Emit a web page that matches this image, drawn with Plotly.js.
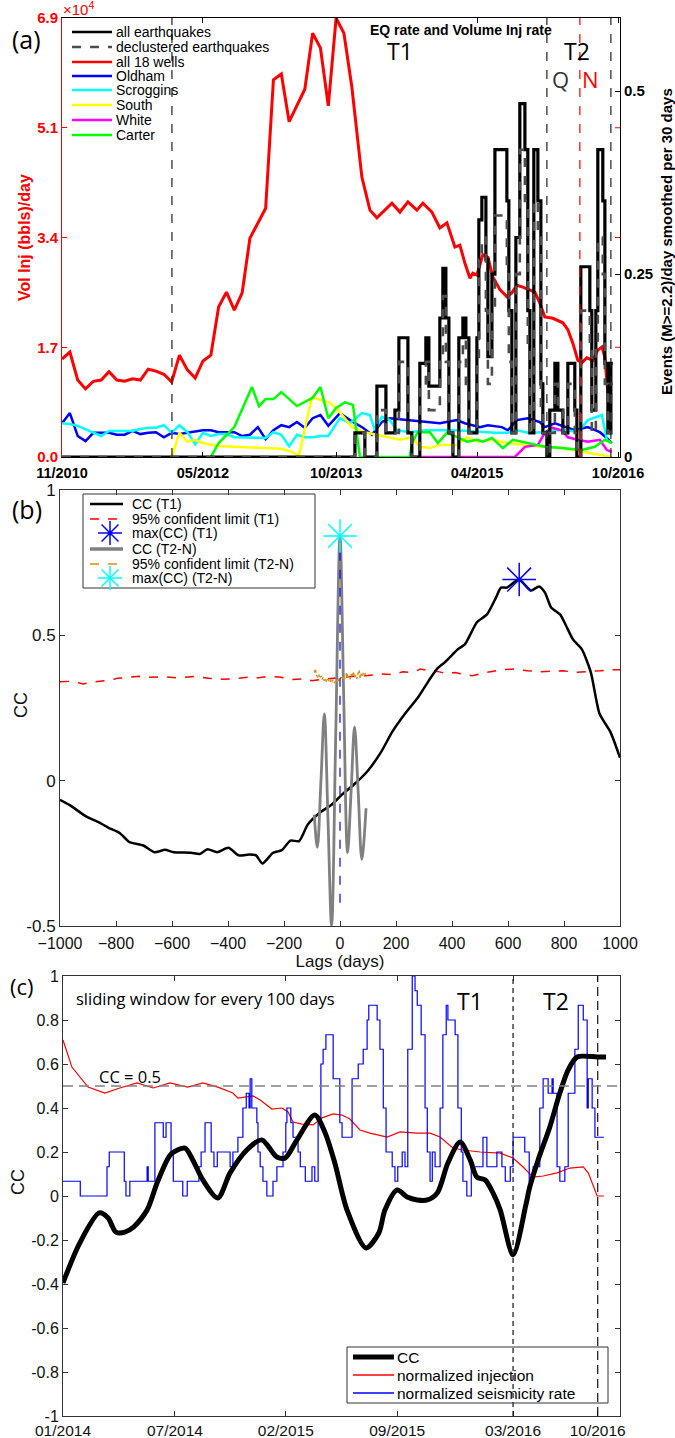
<!DOCTYPE html>
<html>
<head>
<meta charset="utf-8">
<script src="https://cdn.plot.ly/plotly-3.0.1.min.js"></script>
<style>
html,body{margin:0;padding:0;background:#fff;}
#chart{width:675px;height:1438px;}
</style>
</head>
<body>
<div id="chart"></div>
<script>
// ================= Panel (a) data =================
// time in decimal years; injection in 10^4 bbls/day; EQ rate in events/day
const monthsT = [2010.833,2010.917,2011.000,2011.083,2011.167,2011.250,2011.333,2011.417,2011.500,2011.583,
  2011.667,2011.750,2011.833,2011.917,2012.000,2012.083,2012.167,2012.250,2012.333,2012.417,
  2012.500,2012.583,2012.667,2012.750,2012.833,2012.917,2013.000,2013.083,2013.167,2013.250,
  2013.333,2013.417,2013.500,2013.583,2013.667,2013.750,2013.833,2013.917];

const allWellsLateT = [2014.024,2014.110,2014.184,2014.344,2014.429,2014.514,2014.610,2014.673,2014.769,2014.854,
  2014.929,2015.014,2015.067,2015.120,2015.174,2015.205,2015.248,2015.312,2015.365,2015.418,
  2015.493,2015.567,2015.620,2015.673,2015.737,2015.812,2015.865,2015.918,2015.971,2016.056,
  2016.163,2016.216,2016.269,2016.322,2016.365,2016.418,2016.482,2016.535,2016.578,2016.610,
  2016.642,2016.684];
const allWellsV = [1.54,1.65,1.21,1.07,1.19,1.21,1.34,1.21,1.19,1.23,1.21,1.38,1.35,1.30,1.18,1.60,1.37,1.24,1.51,1.60,
  2.36,2.59,2.31,2.58,3.44,3.68,3.91,5.93,6.02,5.27,5.52,5.78,6.66,6.43,5.52,6.90,6.66,5.82,
  4.40,3.88,3.76,3.99,3.85,4.01,3.88,3.99,3.85,3.60,3.68,3.30,3.33,3.05,2.81,2.89,2.86,3.18,3.14,2.83,
  2.63,2.52,2.58,2.70,2.67,2.63,2.59,2.42,2.20,2.18,2.11,2.00,1.79,1.52,1.48,1.56,1.52,1.68,1.73,1.57,1.01,0.97];

const oldhamLateT = [2013.791,2013.897,2014.035,2014.131,2014.237,2014.322,2014.503,2014.716,2014.854,2015.035,
  2015.120,2015.280,2015.365,2015.514,2015.578,2015.673,2015.790,2015.918,2015.971,2016.078,
  2016.205,2016.290,2016.429,2016.556,2016.631,2016.684];
const oldhamV = [0.53,0.69,0.33,0.25,0.38,0.38,0.38,0.35,0.35,0.41,0.36,0.38,0.39,0.31,0.38,0.36,0.38,0.39,0.42,0.42,
  0.39,0.39,0.39,0.33,0.35,0.47,0.28,0.42,0.50,0.47,0.55,0.46,0.61,0.66,0.49,
  0.69,0.58,0.46,0.35,0.55,0.61,0.58,0.55,0.53,0.58,0.53,0.47,0.50,0.47,0.42,0.58,0.61,0.55,0.47,0.53,
  0.47,0.42,0.47,0.39,0.30,0.22];

const scrogginsLateT = [2013.791,2013.897,2014.024,2014.110,2014.163,2014.237,2014.322,2014.397,2014.535,2014.716,
  2015.035,2015.280,2015.440,2015.578,2015.673,2015.790,2015.939,2016.078,2016.216,2016.322,
  2016.429,2016.578,2016.631,2016.684];
const scrogginsV = [0.53,0.52,0.49,0.44,0.39,0.33,0.41,0.41,0.41,0.41,0.44,0.46,0.46,0.50,0.38,0.50,0.39,0.20,0.38,0.33,
  0.36,0.36,0.31,0.31,0.30,0.31,0.30,0.39,0.35,0.17,0.35,0.31,0.31,0.33,0.33,
  0.61,0.53,0.69,0.66,0.42,0.63,0.58,0.42,0.39,0.42,0.42,0.39,0.38,0.38,0.42,0.38,0.39,0.42,0.42,0.39,
  0.58,0.66,0.27,0.22];

const southT = [2012.000,2012.083,2012.167,2012.250,2012.333,2012.500,2012.667,2013.000,2013.167,2013.280,
  2013.354,2013.492,2013.578,2013.684,2013.769,2013.918,2014.078,2014.322,2014.429,2014.556,
  2014.641,2014.748,2014.854,2015.035,2015.141,2015.258,2015.408,2015.578,2015.759,2015.939,
  2016.152,2016.365,2016.578,2016.684];
const southV = [0,0.38,0.24,0.27,0.22,0.17,0.16,0.14,0.13,0.08,0.02,0.94,0.90,0.85,0.74,0.47,0.38,0.30,0.27,0.31,
  0.16,0.14,0.19,0.19,0.31,0.24,0.27,0.22,0.19,0.16,0.14,0.08,0.03,0];

const whiteT = [2014.535,2015.652,2015.759,2015.897,2015.971,2016.046,2016.152,2016.216,2016.322,2016.429,
  2016.556,2016.631,2016.684];
const whiteV = [0,0,0.16,0.19,0.38,0.46,0.42,0.31,0.27,0.24,0.27,0.11,0.08];

const carterT = [2012.417,2012.500,2012.667,2012.854,2012.929,2013.000,2013.083,2013.167,2013.333,2013.500,
  2013.583,2013.667,2013.750,2013.844,2013.929,2014.003,2014.535,2014.556,2014.620,2014.748,
  2014.833,2014.929,2015.046,2015.141,2015.248,2015.312,2015.408,2015.525,2015.631,2015.790,
  2015.971,2016.152,2016.365,2016.503,2016.610,2016.684];
const carterV = [0,0.22,0.47,1.10,0.80,0.91,0.91,1.02,0.80,0.93,1.10,0.61,0.77,0.86,0.82,0,0,0.22,0.39,0.39,
  0.22,0.38,0.31,0.24,0.27,0.24,0.30,0.14,0.27,0.22,0.16,0.14,0.11,0.16,0.27,0.22];

const eqT = [2010.833,2013.950,2014.056,2014.184,2014.280,2014.376,2014.418,2014.514,2014.556,2014.641,
  2014.705,2014.737,2014.854,2014.886,2014.918,2014.950,2014.993,2015.056,2015.099,2015.131,
  2015.163,2015.195,2015.248,2015.269,2015.301,2015.344,2015.365,2015.408,2015.440,2015.567,
  2015.588,2015.620,2015.663,2015.705,2015.759,2015.790,2015.812,2015.854,2015.897,2015.929,
  2015.950,2015.993,2016.024,2016.078,2016.110,2016.163,2016.216,2016.290,2016.312,2016.354,
  2016.450,2016.471,2016.514,2016.535,2016.588,2016.610,2016.642,2016.674,2016.695];
const eqAllV = [0,0.033,0,0.097,0.033,0.064,0.163,0.033,0,0.128,0.163,0.097,0.19,0.258,0.19,0.033,0,0.163,0.19,0.163,
  0.033,0.033,0.163,0.324,0.355,0.27,0.137,0.25,0.42,0.35,0.2,0.033,0.3,0.483,0.42,0.2,0.033,0.42,0.35,0.1,
  0.033,0,0.064,0.128,0.064,0.033,0.128,0.064,0,0.26,0.2,0.064,0.2,0.42,0.35,0.128,0.033,0.128,0.128];
const eqDeclV = [0,0.033,0,0.064,0.033,0.033,0.13,0.033,0,0.097,0.13,0.064,0.13,0.22,0.13,0.033,0,0.13,0.16,0.1,
  0.033,0.033,0.13,0.27,0.30,0.2,0.1,0.2,0.33,0.25,0.13,0.033,0.25,0.42,0.35,0.15,0.033,0.35,0.3,0.064,
  0.033,0,0.033,0.1,0.064,0.033,0.1,0.033,0,0.2,0.15,0.033,0.15,0.3,0.25,0.1,0.033,0.1,0.1];

const periodLinesA = [2012.003, 2015.993, 2016.674];   // black dashed
const nLineA = [2016.344];                            // red dashed (N)
const aTickT = [2010.833, 2012.333, 2013.75, 2015.25, 2016.75];
const aTickLbl = ['11/2010','05/2012','10/2013','04/2015','10/2016'];
const injTickV = [0, 1.725, 3.45, 5.175, 6.9];
const injTickLbl = ['0.0','1.7','3.4','5.1','6.9'];
const eqTickV = [0, 0.25, 0.5];
const eqTickLbl = ['0','0.25','0.5'];

// ================= Panel (b) data =================
const lagT1 = [-1000,-964,-910,-856,-825,-787,-753,-702,-663,-625,-594,-532,-501,-473,-439,-398,-362,-324,-300,-277,
  -239,-208,-177,-146,-115,-69,-30,8,55,101,147,186,232,279,317,348,375,421,446,489,
  525,557,575,596,639,682,711,732,754,786,807,832,864,896,927,966,1000];
const ccT1 = [-0.066,-0.085,-0.121,-0.146,-0.163,-0.180,-0.211,-0.223,-0.246,-0.238,-0.246,-0.248,-0.252,-0.236,-0.246,-0.231,-0.257,-0.254,-0.257,-0.285,
  -0.248,-0.239,-0.206,-0.208,-0.151,-0.108,-0.083,-0.047,-0.009,0.036,0.099,0.167,0.230,0.287,0.344,0.386,0.408,0.452,0.469,0.545,
  0.572,0.630,0.664,0.664,0.692,0.654,0.668,0.647,0.596,0.572,0.534,0.486,0.452,0.372,0.230,0.167,0.079];
const limLagT1 = [-1000,-960,-930,-918,-890,-856,-820,-795,-760,-717,-680,-625,-580,-540,-517,-470,-430,-378,-330,-290,
  -254,-210,-170,-130,-100,-60,-20,24,60,100,148,190,225,260,287,320,348,380,410,440,
  472,510,545,580,626,670,719,760,796,840,889,930,981,1000];
const limT1 = [0.340,0.342,0.336,0.333,0.338,0.342,0.346,0.352,0.355,0.359,0.356,0.357,0.354,0.356,0.359,0.352,0.349,0.350,0.356,0.354,
  0.359,0.356,0.348,0.350,0.344,0.349,0.353,0.357,0.360,0.362,0.367,0.365,0.375,0.372,0.384,0.378,0.376,0.368,0.372,0.366,
  0.361,0.370,0.376,0.382,0.384,0.378,0.375,0.377,0.378,0.373,0.375,0.378,0.382,0.382];
const lagT2 = [-92,-81,-68,-56,-43,-30,-15,0,13,27,40,52,65,78,93];
const ccT2 = [-0.117,-0.229,0.0,0.230,-0.13,-0.499,0.17,0.842,0.30,-0.248,-0.03,0.185,-0.04,-0.271,-0.095];
const limLagT2 = [-92,-88,-84,-80,-76,-72,-68,-64,-60,-56,-52,-48,-44,-40,-36,-32,-28,-24,-20,-16,-12,-8,-4,0,
  4,8,12,16,20,24,28,32,36,40,44,48,52,56,60,64,68,72,76,80,84,88,92];
const limT2 = [0.372,0.385,0.362,0.358,0.366,0.352,0.360,0.348,0.356,0.344,0.352,0.340,0.349,0.345,0.338,0.350,0.342,0.347,0.336,0.345,
  0.340,0.352,0.343,0.349,0.356,0.347,0.360,0.350,0.358,0.372,0.352,0.361,0.349,0.366,0.357,0.375,0.355,0.362,0.350,0.366,
  0.380,0.352,0.368,0.362,0.372,0.365,0.370];
const maxT1 = {lag:[640], cc:[0.692]};
const maxT2 = {lag:[0], cc:[0.842]};
const maxT2LineCC = [-0.42, 0.842];
const lagTicks = [-1000,-800,-600,-400,-200,0,200,400,600,800,1000];
const ccTicksB = [-0.5,0,0.5,1];
const ccTicksBLbl = ['-0.5','0','0.5','1'];

// ================= Panel (c) data =================
// x = days since 01/2014 (sliding-window centre)
const ccDays = [0,30,65,81,95,111,127,151,169,187,196,219,233,251,278,300,330,357,384,399,
  420,452,470,488,510,544,567,578,600,618,636,654,672,691,713,731,743,758,772,785,
  808,831,838,853,874,892,907,923,959,975];
const ccVal = [-0.395,-0.214,-0.077,-0.10,-0.164,-0.164,-0.14,-0.064,0.06,0.164,0.195,0.218,0.164,0.073,-0.009,0.105,0.209,0.255,0.177,0.173,
  0.255,0.368,0.291,0.15,-0.064,-0.236,-0.168,-0.064,0.027,-0.005,-0.018,-0.018,0.014,0.15,0.245,0.164,0.086,0.073,0.014,-0.064,
  -0.268,-0.04,0.041,0.164,0.314,0.468,0.573,0.632,0.632,0.632];
const injDays = [0,16,45,75,102,133,162,192,224,251,278,305,314,341,354,375,393,404,413,429,
  449,465,485,501,515,533,551,582,605,636,659,677,700,718,749,785,808,826,844,862,
  887,910,934,943,959,971];
const injVal = [0.709,0.586,0.495,0.468,0.491,0.514,0.491,0.514,0.495,0.514,0.495,0.468,0.445,0.455,0.436,0.395,0.40,0.382,0.336,0.327,
  0.323,0.355,0.373,0.368,0.35,0.30,0.286,0.268,0.291,0.286,0.286,0.268,0.218,0.209,0.20,0.195,0.173,0.132,0.086,0.091,
  0.105,0.127,0.132,0.105,0,0];
const seisDays = [0,31,79,83,110,113,120,151,153,165,180,185,194,198,215,223,244,248,255,266,
  271,277,300,305,314,323,329,334,336,339,348,350,354,359,366,377,384,395,400,402,
  409,413,422,426,435,447,452,458,463,467,472,485,497,501,519,530,539,546,549,564,
  569,575,580,591,596,601,609,614,619,627,632,636,643,650,654,659,663,668,677,682,
  688,691,704,709,715,718,725,733,754,761,779,788,794,803,808,829,837,844,856,862,
  871,878,880,887,892,901,907,919,925,934,941,943,950,955,971];
const seisVal = [0.067,0,0.133,0.2,0.067,0,0.067,0.133,0.067,0.333,0.267,0.333,0.2,0.067,0,0.067,0.133,0.2,0.333,0.2,
  0.133,0.2,0.133,0.2,0.267,0.4,0.467,0.4,0.533,0.4,0.333,0.2,0.133,0.067,0,0.067,0.133,0.2,0.333,0.4,
  0.333,0.267,0.2,0.133,0.067,0.133,0.067,0.333,0.6,0.667,0.733,0.533,0.333,0.267,0.533,0.6,0.667,0.8,0.867,0.8,
  0.667,0.4,0.2,0.133,0.067,0.133,0.2,0.133,0.667,1.0,0.933,0.867,0.733,0.4,0.2,0.067,0.2,0.133,0.4,0.733,
  0.867,0.8,0.733,0.4,0.2,0.067,0,0.133,0.267,0.133,0.2,0.133,0.067,0.133,0.267,0.2,0.067,0.133,0.4,0.533,
  0.467,0.533,0.467,0.133,0.067,0.133,0.467,0.667,0.867,0.8,0.4,0.533,0.4,0.267,0.267];
const periodLinesC = [808, 960];
const ccThreshold = [0.5];
const cTickD = [0, 201, 400, 600, 808, 960];
const cTickLbl = ['01/2014','07/2014','02/2015','09/2015','03/2016','10/2016'];
const ccTicksC = [-1,-0.8,-0.6,-0.4,-0.2,0,0.2,0.4,0.6,0.8,1];
const ccTicksCLbl = ['-1','-0.8','-0.6','-0.4','-0.2','0','0.2','0.4','0.6','0.8','1'];

// ================= figure =================
const W = 675, H = 1438;
const px = x => x / W, py = y => 1 - y / H;
const HEL = 'Liberation Sans, Arial, Helvetica, sans-serif';
const SANS2 = 'Open Sans, DejaVu Sans, sans-serif';

const traces = [];
function aLine(x, y, color, width) {
  traces.push({type:'scatter', mode:'lines', x, y, xaxis:'x', yaxis:'y', line:{color, width}, hoverinfo:'skip'});
}
aLine(monthsT.slice(0,35).concat(oldhamLateT), oldhamV, '#0000FF', 2.5);
aLine(monthsT.slice(0,35).concat(scrogginsLateT), scrogginsV, '#00FFFF', 2.5);
aLine(southT, southV, '#FFFF00', 2.5);
aLine(whiteT, whiteV, '#FF00FF', 2.5);
aLine(carterT, carterV, '#00FF00', 2.5);
aLine(monthsT.concat(allWellsLateT), allWellsV, '#FF0000', 3);
traces.push({type:'scatter', mode:'lines', x:eqT, y:eqAllV, xaxis:'x', yaxis:'y2', line:{color:'#000', width:3.2, shape:'hv'}});
traces.push({type:'scatter', mode:'lines', x:eqT, y:eqDeclV, xaxis:'x', yaxis:'y2', line:{color:'#4d4d4d', width:2.6, shape:'hv', dash:'dash'}});

// panel b
traces.push({type:'scatter', mode:'lines', x:limLagT1, y:limT1, xaxis:'x2', yaxis:'y3', line:{color:'#FF0000', width:1.5, dash:'dash'}});
traces.push({type:'scatter', mode:'lines', x:lagT1, y:ccT1, xaxis:'x2', yaxis:'y3', line:{color:'#000', width:2.5, shape:'spline', smoothing:0.6}});
traces.push({type:'scatter', mode:'lines', x:lagT2, y:ccT2, xaxis:'x2', yaxis:'y3', line:{color:'#808080', width:2.8, shape:'spline', smoothing:1}});
traces.push({type:'scatter', mode:'lines', x:limLagT2, y:limT2, xaxis:'x2', yaxis:'y3', line:{color:'#D4901E', width:1.5, dash:'3px,2px'}});
traces.push({type:'scatter', mode:'lines', x:[maxT2.lag[0], maxT2.lag[0]], y:maxT2LineCC, xaxis:'x2', yaxis:'y3', line:{color:'#0000FF', width:1.2, dash:'dash'}});
traces.push({type:'scatter', mode:'markers', x:maxT1.lag, y:maxT1.cc, xaxis:'x2', yaxis:'y3', marker:{symbol:'asterisk-open', size:28, color:'#0000FF', line:{color:'#0000FF', width:1.5}}});
traces.push({type:'scatter', mode:'markers', x:maxT2.lag, y:maxT2.cc, xaxis:'x2', yaxis:'y3', marker:{symbol:'asterisk-open', size:28, color:'#00FFFF', line:{color:'#00FFFF', width:1.5}}});

// panel c
traces.push({type:'scatter', mode:'lines', x:injDays, y:injVal, xaxis:'x3', yaxis:'y4', line:{color:'#FF0000', width:1.2}});
traces.push({type:'scatter', mode:'lines', x:seisDays, y:seisVal, xaxis:'x3', yaxis:'y4', line:{color:'#0000FF', width:1.2, shape:'hv'}});
traces.push({type:'scatter', mode:'lines', x:ccDays, y:ccVal, xaxis:'x3', yaxis:'y4', line:{color:'#000', width:5, shape:'spline', smoothing:0.8}});

// ---------- shapes ----------
const shapes = [];
periodLinesA.forEach(v => shapes.push({type:'line', xref:'x', yref:'y domain', x0:v, x1:v, y0:0, y1:1, line:{color:'#222', width:1.2, dash:'dash'}}));
nLineA.forEach(v => shapes.push({type:'line', xref:'x', yref:'y domain', x0:v, x1:v, y0:0, y1:1, line:{color:'#FF0000', width:1.2, dash:'dash'}}));
periodLinesC.forEach((v,i) => shapes.push({type:'line', xref:'x3', yref:'y4 domain', x0:v, x1:v, y0:0, y1:1, line:{color:'#111', width:1.2, dash: i===0 ? '5px,4px' : '9px,5px'}}));
ccThreshold.forEach(v => shapes.push({type:'line', xref:'x3 domain', yref:'y4', x0:0, x1:1, y0:v, y1:v, line:{color:'#808080', width:1.5, dash:'10px,6px'}}));
// red mirrored ticks of the left axis on the right spine of (a)
injTickV.slice(1,4).forEach(v => shapes.push({type:'line', xref:'x domain', yref:'y', x0:1, x1:0.991, y0:v, y1:v, line:{color:'#FF0000', width:1}}));

function lseg(x0, x1, y, line) { shapes.push({type:'line', xref:'paper', yref:'paper', x0:px(x0), x1:px(x1), y0:py(y), y1:py(y), line}); }
function asterisk(cx, cy, r, color) {
  const d = r * 0.7071;
  [[-r,0,r,0],[0,-r,0,r],[-d,-d,d,d],[-d,d,d,-d]].forEach(([a,b,c,e]) =>
    shapes.push({type:'line', xref:'paper', yref:'paper', x0:px(cx+a), y0:py(cy+b), x1:px(cx+c), y1:py(cy+e), line:{color, width:1.5}}));
}
// legend (a)
const legA = [
  ['all earthquakes', {color:'#000', width:2.5}],
  ['declustered earthquakes', {color:'#4d4d4d', width:2.5, dash:'dash'}],
  ['all 18 wells', {color:'#FF0000', width:2.5}],
  ['Oldham', {color:'#0000FF', width:2.5}],
  ['Scroggins', {color:'#00FFFF', width:2.5}],
  ['South', {color:'#FFFF00', width:2.5}],
  ['White', {color:'#FF00FF', width:2.5}],
  ['Carter', {color:'#00FF00', width:2.5}]
];
const legAy = [32, 47, 62, 76, 90, 105, 120, 135];
legA.forEach((e,i) => lseg(72, 112, legAy[i], e[1]));
// legend (b)
shapes.push({type:'rect', xref:'paper', yref:'paper', x0:px(83), x1:px(315), y0:py(588), y1:py(494), line:{color:'#333', width:1}, fillcolor:'rgba(255,255,255,0)'});
const legBy = [504, 519, 533, 549, 564, 578];
lseg(90, 123, legBy[0], {color:'#000', width:2.5});
lseg(90, 123, legBy[1], {color:'#FF0000', width:1.5, dash:'dash'});
asterisk(110, legBy[2], 12, '#0000FF');
shapes.push({type:'circle', xref:'paper', yref:'paper', x0:px(108), x1:px(112), y0:py(legBy[2]+2), y1:py(legBy[2]-2), fillcolor:'#0000FF', line:{color:'#0000FF', width:1}});
lseg(90, 123, legBy[3], {color:'#808080', width:3.5});
lseg(90, 123, legBy[4], {color:'#D4901E', width:1.5, dash:'dash'});
asterisk(110, legBy[5], 12, '#00FFFF');
// legend (c)
shapes.push({type:'rect', xref:'paper', yref:'paper', x0:px(347), x1:px(608), y0:py(1403), y1:py(1347), line:{color:'#333', width:1}, fillcolor:'rgba(255,255,255,0)'});
const legCy = [1357, 1375, 1393];
lseg(353, 394, legCy[0], {color:'#000', width:5});
lseg(353, 394, legCy[1], {color:'#FF0000', width:1.3});
lseg(353, 394, legCy[2], {color:'#0000FF', width:1.3});

// ---------- annotations ----------
const ann = [];
function txt(text, x, y, size, opts) {
  ann.push(Object.assign({text, xref:'paper', yref:'paper', x:px(x), y:py(y), showarrow:false,
    xanchor:'left', yanchor:'middle', borderpad:0, font:{family:HEL, size, color:'#000'}}, opts || {}));
}
legA.forEach((e,i) => txt(e[0], 115, legAy[i], 14));
['CC (T1)','95% confident limit (T1)','max(CC) (T1)','CC (T2-N)','95% confident limit (T2-N)','max(CC) (T2-N)']
  .forEach((t,i) => txt(t, 131, legBy[i], 14));
['CC','normalized injection','normalized seismicity rate'].forEach((t,i) => txt(t, 396, legCy[i], 15.5));

// axis titles
txt('Vol Inj (bbls)/day', 24, 238, 16, {xanchor:'center', textangle:-90, font:{family:HEL, size:16, color:'#FF0000', weight:'bold'}});
txt('Events (M>=2.2)/day smoothed per 30 days', 666, 242, 15, {xanchor:'center', textangle:-90, font:{family:HEL, size:15, color:'#000', weight:'bold'}});
txt('CC', 21, 705, 18, {xanchor:'center', textangle:-90, font:{family:HEL, size:18, color:'#111'}});
txt('CC', 18, 1182, 18, {xanchor:'center', textangle:-90, font:{family:HEL, size:18, color:'#111'}});

txt('(a)', 26, 39, 25, {xanchor:'center', font:{family:SANS2, size:25, color:'#000'}});
txt('\u00d710<sup>4</sup>', 62, 9, 15, {font:{family:HEL, size:15, color:'#FF0000'}});
txt('<b>EQ rate and Volume Inj rate</b>', 461, 30, 14, {xanchor:'center'});
txt('T1', 400, 51, 23, {xanchor:'center', font:{family:SANS2, size:23, color:'#000'}});
txt('T2', 577, 51, 23, {xanchor:'center', font:{family:SANS2, size:23, color:'#000'}});
txt('Q', 560, 79, 22, {xanchor:'center', font:{family:SANS2, size:22, color:'#333'}});
txt('N', 590, 79, 22, {xanchor:'center', font:{family:SANS2, size:22, color:'#FF0000'}});
txt('(b)', 27, 509, 25, {xanchor:'center', font:{family:SANS2, size:25, color:'#000'}});
txt('(c)', 22, 986, 22, {xanchor:'center', font:{family:SANS2, size:22, color:'#000'}});
txt('sliding window for every 100 days', 75, 998, 16.5, {font:{family:SANS2, size:16.5, color:'#000'}});
txt('T1', 470, 1001, 23, {xanchor:'center', font:{family:SANS2, size:23, color:'#000'}});
txt('T2', 556, 1001, 23, {xanchor:'center', font:{family:SANS2, size:23, color:'#000'}});
txt('CC = 0.5', 98, 1076, 16.5, {font:{family:SANS2, size:16.5, color:'#000'}});

const baseAx = {showgrid:false, zeroline:false, showline:true, ticks:'inside', ticklen:5, linewidth:1};
const layout = {
  width:W, height:H, margin:{l:0, r:0, t:0, b:0},
  paper_bgcolor:'#fff', plot_bgcolor:'#fff', showlegend:false,
  xaxis: Object.assign({}, baseAx, {domain:[px(62), px(620)], anchor:'y', range:[2010.833, 2016.771],
    tickvals:aTickT, ticktext:aTickLbl, linecolor:'#000', tickcolor:'#000', mirror:'ticks', ticklabelstandoff:3,
    tickfont:{family:HEL, size:14.5, color:'#000', weight:'bold'}}),
  yaxis: Object.assign({}, baseAx, {domain:[py(457), py(18)], anchor:'x', range:[0, 6.9],
    tickvals:injTickV, ticktext:injTickLbl, linecolor:'#FF0000', tickcolor:'#FF0000',
    tickfont:{family:HEL, size:15, color:'#FF0000', weight:'bold'}}),
  yaxis2: Object.assign({}, baseAx, {overlaying:'y', side:'right', anchor:'x', range:[0, 0.6],
    tickvals:eqTickV, ticktext:eqTickLbl, linecolor:'#000', tickcolor:'#000',
    tickfont:{family:HEL, size:15, color:'#000', weight:'bold'}}),
  xaxis2: Object.assign({}, baseAx, {domain:[px(60), px(620)], anchor:'y3', range:[-1000, 1000],
    tickvals:lagTicks, linecolor:'#333', tickcolor:'#333', mirror:'ticks', ticklabelstandoff:3,
    tickfont:{family:HEL, size:16, color:'#111'},
    title:{text:'Lags (days)', font:{family:HEL, size:17, color:'#111'}, standoff:1}}),
  yaxis3: Object.assign({}, baseAx, {domain:[py(926), py(490)], anchor:'x2', range:[-0.5, 1],
    tickvals:ccTicksB, ticktext:ccTicksBLbl, linecolor:'#333', tickcolor:'#333', mirror:'ticks',
    tickfont:{family:HEL, size:17, color:'#111'}}),
  xaxis3: Object.assign({}, baseAx, {domain:[px(63), px(620)], anchor:'y4', range:[0, 1000],
    tickvals:cTickD, ticktext:cTickLbl, linecolor:'#333', tickcolor:'#333', mirror:'ticks',
    tickfont:{family:HEL, size:15.5, color:'#111'}}),
  yaxis4: Object.assign({}, baseAx, {domain:[py(1416), py(976)], anchor:'x3', range:[-1, 1],
    tickvals:ccTicksC, ticktext:ccTicksCLbl, linecolor:'#333', tickcolor:'#333', mirror:'ticks',
    tickfont:{family:HEL, size:16, color:'#111'}}),
  shapes, annotations:ann
};
Plotly.newPlot('chart', traces, layout, {staticPlot:true, displayModeBar:false});
</script>
</body>
</html>
